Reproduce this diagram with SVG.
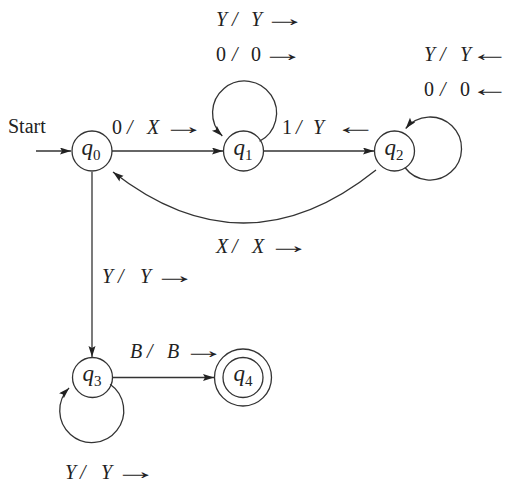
<svg xmlns="http://www.w3.org/2000/svg" width="510" height="484" viewBox="0 0 510 484">
<style>
.bg{fill:#ffffff}
.st{fill:none;stroke:#333;stroke-width:1.3}
.edge{fill:none;stroke:#333;stroke-width:1.3}
.t{font-family:"Liberation Serif","Times New Roman",serif;font-size:20px;fill:#222}
.ar{font-family:"Liberation Serif","Times New Roman",serif;font-size:24px;fill:#222}
.it{font-style:italic}
.q{font-family:"Liberation Serif","Times New Roman",serif;font-size:23px;font-style:italic;fill:#222}
.sub{font-size:15px;font-style:normal}
</style>
<defs>
<marker id="ah" markerUnits="userSpaceOnUse" markerWidth="12" markerHeight="8" refX="11" refY="3.5" orient="auto">
<path d="M0,0 L11,3.5 L0,7 L2,3.5 z" fill="#222"/>
</marker>
</defs>
<rect class="bg" x="0" y="0" width="510" height="484"/>

<g id="connectors">
<line class="edge" x1="36" y1="151" x2="71" y2="151" marker-end="url(#ah)"/>
<line class="edge" x1="112" y1="151" x2="223" y2="151" marker-end="url(#ah)"/>
<line class="edge" x1="264" y1="151" x2="374" y2="151" marker-end="url(#ah)"/>
<path class="edge" d="M259.5,141.3 A32,32 0 1 0 222.3,136" marker-end="url(#ah)"/>
<path class="edge" d="M404.9,167.5 A31.5,31.5 0 1 0 405.7,128.5" marker-end="url(#ah)"/>
<path class="edge" d="M376,170 Q245,275 113,172" marker-end="url(#ah)"/>
<line class="edge" x1="92" y1="172" x2="92" y2="357" marker-end="url(#ah)"/>
<line class="edge" x1="113" y1="377.5" x2="214" y2="377.5" marker-end="url(#ah)"/>
<path class="edge" d="M110.1,384.3 A32,32 0 1 1 69.1,387.9" marker-end="url(#ah)"/>
</g>

<g id="labels">
<text class="t" x="8" y="133" font-size="21">Start</text>

<text class="t" y="26"><tspan class="it" x="216">Y</tspan><tspan class="it" x="232">/</tspan><tspan class="it" x="251">Y</tspan></text>
<text class="ar" transform="translate(263,26) scale(1.8,1)">→</text>

<text class="t" y="61"><tspan x="216">0</tspan><tspan class="it" x="232">/</tspan><tspan x="251">0</tspan></text>
<text class="ar" transform="translate(261,61) scale(1.8,1)">→</text>

<text class="t" y="61"><tspan class="it" x="424">Y</tspan><tspan class="it" x="440">/</tspan><tspan class="it" x="460">Y</tspan></text>
<text class="ar" transform="translate(470,61) scale(1.65,1)">←</text>

<text class="t" y="96"><tspan x="424">0</tspan><tspan class="it" x="440">/</tspan><tspan x="460">0</tspan></text>
<text class="ar" transform="translate(470,96) scale(1.65,1)">←</text>

<text class="t" y="134"><tspan x="112">0</tspan><tspan class="it" x="127">/</tspan><tspan class="it" x="147">X</tspan></text>
<text class="ar" transform="translate(162,134) scale(1.8,1)">→</text>

<text class="t" y="134"><tspan x="282">1</tspan><tspan class="it" x="296">/</tspan><tspan class="it" x="313">Y</tspan></text>
<text class="ar" transform="translate(334,134) scale(1.8,1)">←</text>

<text class="t" y="253"><tspan class="it" x="216">X</tspan><tspan class="it" x="232">/</tspan><tspan class="it" x="252">X</tspan></text>
<text class="ar" transform="translate(267,253) scale(1.8,1)">→</text>

<text class="t" y="283"><tspan class="it" x="102">Y</tspan><tspan class="it" x="118">/</tspan><tspan class="it" x="140">Y</tspan></text>
<text class="ar" transform="translate(153,283) scale(1.8,1)">→</text>

<text class="t" y="358"><tspan class="it" x="130">B</tspan><tspan class="it" x="147">/</tspan><tspan class="it" x="167">B</tspan></text>
<text class="ar" transform="translate(182,358) scale(1.8,1)">→</text>

<text class="t" y="479"><tspan class="it" x="65">Y</tspan><tspan class="it" x="80">/</tspan><tspan class="it" x="101">Y</tspan></text>
<text class="ar" transform="translate(114,479) scale(1.8,1)">→</text>
</g>

<g id="q0">
<circle class="st" cx="92" cy="151" r="20"/>
<text class="q" x="91" y="155" text-anchor="middle">q<tspan class="sub" dy="5">0</tspan></text>
</g>
<g id="q1">
<circle class="st" cx="243.5" cy="151" r="20"/>
<text class="q" x="243" y="155" text-anchor="middle">q<tspan class="sub" dy="5">1</tspan></text>
</g>
<g id="q2">
<circle class="st" cx="394.5" cy="151" r="20"/>
<text class="q" x="394" y="155" text-anchor="middle">q<tspan class="sub" dy="5">2</tspan></text>
</g>
<g id="q3">
<circle class="st" cx="92.5" cy="377.5" r="20"/>
<text class="q" x="92" y="381" text-anchor="middle">q<tspan class="sub" dy="5">3</tspan></text>
</g>
<g id="q4">
<circle class="st" cx="243" cy="377.5" r="28.5"/>
<circle class="st" cx="243" cy="377.5" r="20"/>
<text class="q" x="243" y="381" text-anchor="middle">q<tspan class="sub" dy="5">4</tspan></text>
</g>
</svg>
